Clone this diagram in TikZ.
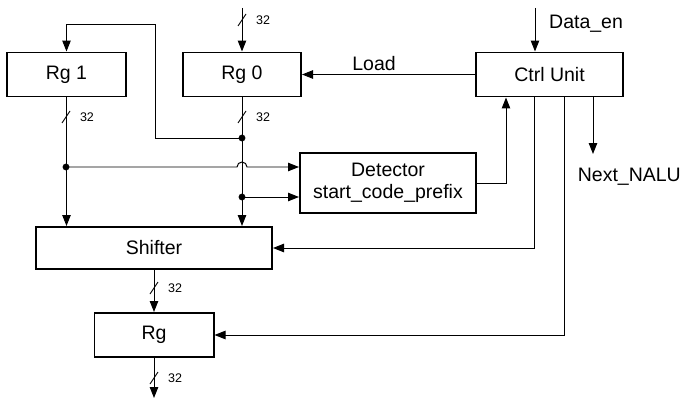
\documentclass[tikz,border=0pt]{standalone}
\usepackage{fontspec}
\setmainfont{Liberation Sans}
\usepackage{tikz}
\usetikzlibrary{calc,arrows.meta}
\def\busmark(#1,#2){\draw[line width=0.3mm] (#1-4,#2+6) -- (#1+4,#2-6); \node[font=\fontsize{12.5}{13}\selectfont] at (#1+21,#2) {32};}

\tikzset{
	blk/.style={draw, line width=0.7mm, font=\fontsize{19.5}{22}\selectfont, align=center, inner sep=0pt},
	sig/.style={line width=0.35mm, -{Triangle[length=11pt,width=8.5pt]}},
	lbl/.style={font=\fontsize{19.5}{22}\selectfont, inner sep=0pt},
	dot/.style={fill=black}
}

\begin{document}
\begin{tikzpicture}[x=1pt, y=-1pt]
		%%%%% START %%%%%
		\useasboundingbox (0,0) rectangle (684,401);
		
		\node[blk, minimum width=119pt, minimum height=44pt] (rgone) at (66.5, 74.5) {Rg 1};
		\node[blk, minimum width=118pt, minimum height=44pt] (rgzero) at (242, 74.5) {Rg 0};
		\node[blk, minimum width=147pt, minimum height=44pt] (ctrl) at (549.5, 74.5) {Ctrl Unit};
		\node[blk, minimum width=176pt, minimum height=60pt] (det) at (388, 183) {Detector\\start\_code\_prefix};
		\node[blk, minimum width=236pt, minimum height=42pt] (shift) at (154, 248) {Shifter};
		\node[blk, minimum width=119pt, minimum height=44pt] (rg) at (154, 335) {Rg};
		
		\coordinate (rgzin) at (242, 8);
		\coordinate (datain) at (535, 8);
		\coordinate (rgout) at (154, 398);
		\coordinate (dA) at (66, 167);
		\coordinate (dB) at (242, 138);
		\coordinate (dC) at (242, 197);
		\coordinate (loopA) at (155, 24);
		\coordinate (cdet) at (506, 0);
		\coordinate (cshift) at (534, 0);
		\coordinate (crg) at (564, 0);
		\coordinate (cnext) at (593, 0);
		\coordinate (nalu) at (593, 154);
		
		% data path
		\draw[sig] (rgzin) -- (rgzero.north);
		\draw[sig] (rgone.south) -- (rgone.south |- shift.north);
		\draw[sig] (rgzero.south) -- (rgzero.south |- shift.north);
		\draw[sig] (dB) -| (loopA) -| (rgone.north);
		\draw[sig] (dA) -- (237, 167) arc (180:0:5pt) -- (det.west |- dA);
		\draw[sig] (dC) -- (det.west |- dC);
		\draw[sig] (shift.south) -- (rg.north);
		\draw[sig] (rg.south) -- (rgout);
		
		\draw[dot] (dA) circle (3.2pt);
		\draw[dot] (dB) circle (3.2pt);
		\draw[dot] (dC) circle (3.2pt);
		
		\busmark(242,20)
		\busmark(66,117)
		\busmark(242,117)
		\busmark(154,288)
		\busmark(154,378)
		
		% control signals
		\draw[sig] (datain) -- (datain |- ctrl.north);
		\node[lbl, anchor=west] (dataen) at (549, 24) {Data\_en};
		\draw[sig] (ctrl.west) -- (rgzero.east);
		\node[lbl] (load) at (374, 64) {Load};
		\draw[sig] (det.east) -| (cdet |- ctrl.south);
		\draw[sig] (cshift |- ctrl.south) |- (shift.east);
		\draw[sig] (crg |- ctrl.south) |- (rg.east);
		\draw[sig] (cnext |- ctrl.south) -- (nalu);
		\node[lbl, anchor=east] (next) at (681, 177) {Next\_NALU};
		
		%%%%% END %%%%%
	\end{tikzpicture}
\end{document}
